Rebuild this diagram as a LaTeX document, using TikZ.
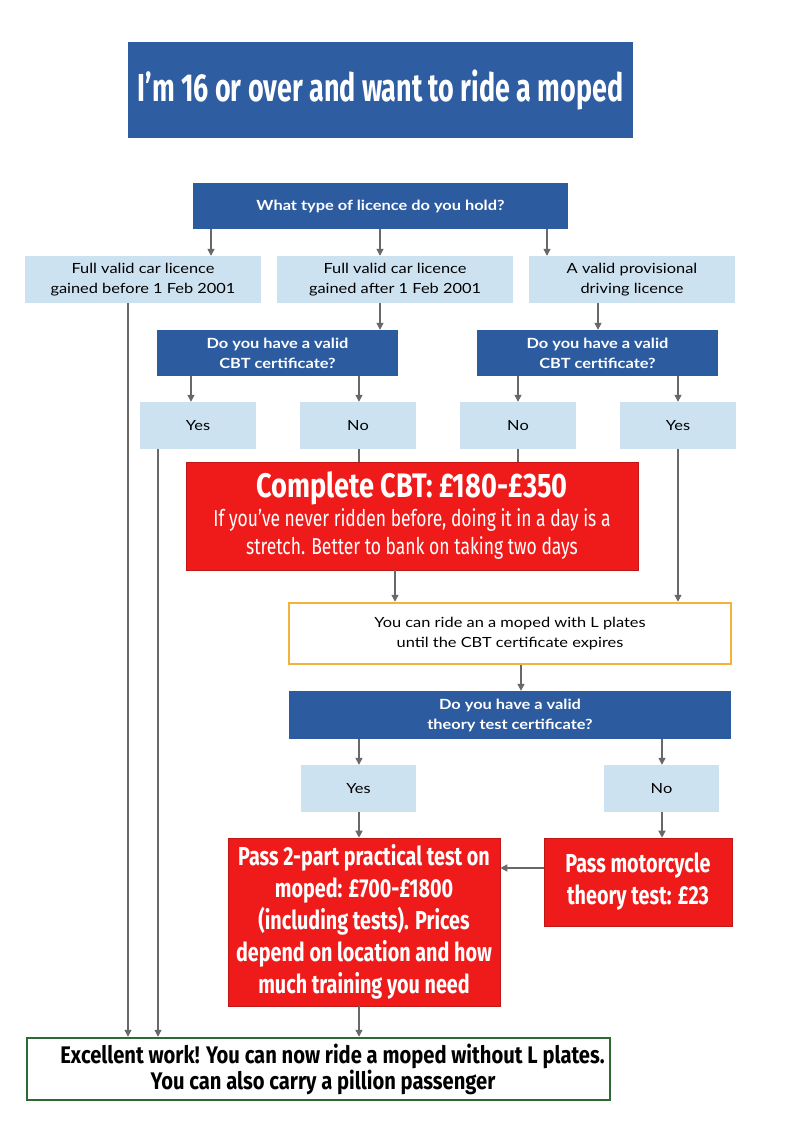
\documentclass[tikz,border=0pt]{standalone}
\usepackage{fontspec}
\setmainfont{Lato}[FakeStretch=1.17]
\newfontfamily\condT[FakeStretch=0.69]{Fira Sans}
\newfontfamily\condC[FakeStretch=0.80]{Fira Sans}
\newfontfamily\condB[FakeStretch=0.76]{Fira Sans}
\newfontfamily\condF[FakeStretch=0.84]{Fira Sans}
\usetikzlibrary{arrows.meta}
\definecolor{titleblue}{HTML}{2F5DA2}
\definecolor{qblue}{HTML}{2C5B9F}
\definecolor{lblue}{HTML}{CDE2F1}
\definecolor{cred}{HTML}{EF1B1B}
\definecolor{cyel}{HTML}{F3B23A}
\definecolor{cgreen}{HTML}{2D6A33}
\definecolor{agray}{HTML}{686868}
\begin{document}
\begin{tikzpicture}[x=1pt,y=-1pt,
  titlebox/.style={fill=titleblue, text=white, inner sep=0pt, font=\condT\bfseries\fontsize{39}{42}\selectfont},
  qbox/.style={fill=qblue, text=white, inner sep=0pt, align=center, font=\bfseries\fontsize{14}{20}\selectfont},
  lbox/.style={fill=lblue, text=black, inner sep=0pt, align=center, font=\fontsize{14}{20}\selectfont},
  redbox/.style={fill=cred, draw=cred!80!black, line width=0.6pt, text=white, inner sep=0pt, align=center},
  ybox/.style={draw=cyel, line width=2.5pt, fill=white, inner sep=0pt, align=center, font=\fontsize{14}{20}\selectfont},
  gbox/.style={draw=cgreen, line width=2.5pt, fill=white, inner sep=0pt, align=center, font=\condF\bfseries\fontsize{24}{26}\selectfont},
  arr/.style={draw=agray, line width=1.3pt, -{Triangle[length=7pt,width=7pt]}},
  ln/.style={draw=agray, line width=1.3pt}
]
\useasboundingbox (0,0) rectangle (800,1146);
\fill[white] (0,0) rectangle (800,1146);

% column coordinates
\foreach \n/\xx in {a/128,b/158,c/191,d/211,e/359,f/380,g/395,h/518,i/521,j/547,k/598,l/662,m/678}
  \coordinate (col\n) at (\xx,0);
\coordinate (row868) at (0,868);

\node[titlebox, minimum width=505pt, minimum height=96pt] (T) at (380.5,90) {I’m 16 or over and want to ride a moped};

\node[qbox, minimum width=375pt, minimum height=46pt] (Q0) at (380.5,206) {What type of licence do you hold?};

\node[lbox, minimum width=236pt, minimum height=47pt] (L1) at (143,279.5) {Full valid car licence\\gained before 1 Feb 2001};
\node[lbox, minimum width=236pt, minimum height=47pt] (L2) at (395,279.5) {Full valid car licence\\gained after 1 Feb 2001};
\node[lbox, minimum width=206pt, minimum height=47pt] (L3) at (632,279.5) {A valid provisional\\driving licence};

\node[qbox, minimum width=241pt, minimum height=46pt] (Q1) at (277.5,353) {Do you have a valid\\CBT certificate?};
\node[qbox, minimum width=241pt, minimum height=46pt] (Q2) at (597.5,353) {Do you have a valid\\CBT certificate?};

\node[lbox, minimum width=116pt, minimum height=47pt] (Y1) at (198,425.5) {Yes};
\node[lbox, minimum width=116pt, minimum height=47pt] (N1) at (358,425.5) {No};
\node[lbox, minimum width=116pt, minimum height=47pt] (N2) at (518,425.5) {No};
\node[lbox, minimum width=116pt, minimum height=47pt] (Y2) at (678,425.5) {Yes};

\node[redbox, minimum width=452pt, minimum height=108pt, font=\condB\fontsize{23}{28}\selectfont] (CBT) at (412,516)
  {\condC\bfseries\fontsize{34}{36}\selectfont Complete CBT: £180-£350\\[1pt]
   \condB\mdseries\fontsize{23}{28}\selectfont If you’ve never ridden before, doing it in a day is a\\stretch. Better to bank on taking two days};

\node[ybox, minimum width=442pt, minimum height=61pt] (YL) at (510,633.5) {You can ride an a moped with L plates\\until the CBT certificate expires};

\node[qbox, minimum width=442pt, minimum height=48pt] (TQ) at (510,715) {Do you have a valid\\theory test certificate?};

\node[lbox, minimum width=115pt, minimum height=47pt] (Y3) at (358.5,788.5) {Yes};
\node[lbox, minimum width=115pt, minimum height=47pt] (N3) at (661.5,788.5) {No};

\node[redbox, minimum width=272pt, minimum height=168pt, font=\condB\bfseries\fontsize{26}{32}\selectfont] (P) at (364,922)
  {Pass 2-part practical test on\\moped: £700-£1800\\(including tests). Prices\\depend on location and how\\much training you need};
\node[redbox, minimum width=188pt, minimum height=88pt, font=\condB\bfseries\fontsize{26}{32}\selectfont] (TH) at (638,882)
  {Pass motorcycle\\theory test: £23};

\node[gbox, minimum width=583pt, minimum height=62pt] (F) at (318.5,1069)
  {\hspace*{28pt}Excellent work! You can now ride a moped without L plates.\\\hspace*{9pt}You can also carry a pillion passenger};

% connectors
\draw[arr] (Q0.south -| cold) -- (L1.north -| cold);
\draw[arr] (Q0.south -| colf) -- (L2.north -| colf);
\draw[arr] (Q0.south -| colj) -- (L3.north -| colj);
\draw[arr] (L1.south -| cola) -- (F.north -| cola);
\draw[arr] (L2.south -| colf) -- (Q1.north -| colf);
\draw[arr] (L3.south -| colk) -- (Q2.north -| colk);
\draw[arr] (Q1.south -| colc) -- (Y1.north -| colc);
\draw[arr] (Q1.south -| cole) -- (N1.north -| cole);
\draw[arr] (Q2.south -| colh) -- (N2.north -| colh);
\draw[arr] (Q2.south -| colm) -- (Y2.north -| colm);
\draw[arr] (Y1.south -| colb) -- (F.north -| colb);
\draw[ln] (N1.south -| cole) -- (CBT.north -| cole);
\draw[ln] (N2.south -| colh) -- (CBT.north -| colh);
\draw[arr] (CBT.south -| colg) -- (YL.north -| colg);
\draw[arr] (Y2.south -| colm) -- (YL.north -| colm);
\draw[arr] (YL.south -| coli) -- (TQ.north -| coli);
\draw[arr] (TQ.south -| cole) -- (Y3.north -| cole);
\draw[arr] (TQ.south -| coll) -- (N3.north -| coll);
\draw[arr] (Y3.south -| cole) -- (P.north -| cole);
\draw[arr] (N3.south -| coll) -- (TH.north -| coll);
\draw[arr] (TH.west |- row868) -- (P.east |- row868);
\draw[arr] (P.south -| cole) -- (F.north -| cole);
\end{tikzpicture}
\end{document}
